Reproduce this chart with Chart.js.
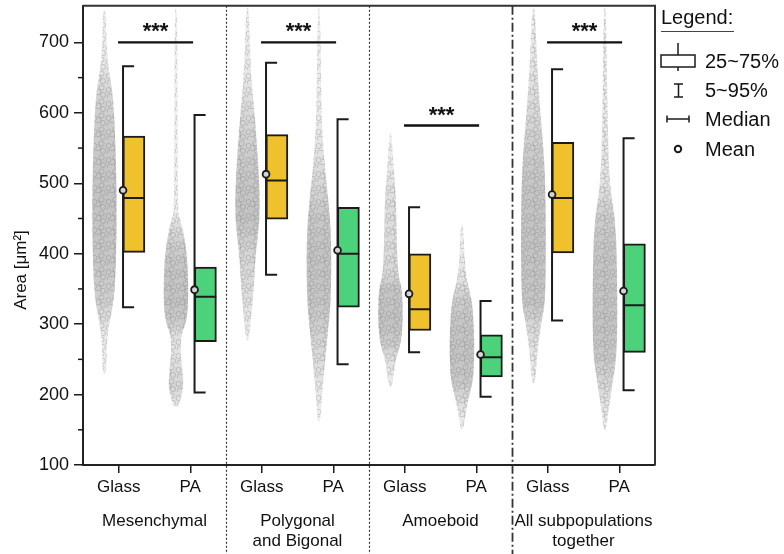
<!DOCTYPE html>
<html>
<head>
<meta charset="utf-8">
<script src="https://cdn.jsdelivr.net/npm/chart.js"></script>
<style>
  body { margin: 0; background: #fff; }
</style>
</head>
<body>
<canvas id="areaChart" width="784" height="554"></canvas>
<script>
const substrates = ['Glass', 'PA'];
const groups = [['Mesenchymal'], ['Polygonal', 'and Bigonal'], ['Amoeboid'], ['All subpopulations', 'together']];

// box statistics, one entry per column (Glass, PA, Glass, PA, ...)
const p5   = [324, 203, 370, 243, 260, 197, 305, 206];
const q1   = [402, 275, 449, 324, 291, 225, 401, 260];
const med  = [479, 339, 504, 400, 321, 253, 479, 327];
const mean = [490, 349, 513, 405, 343, 257, 484, 347];
const q3   = [567, 381, 569, 466, 400, 285, 558, 414];
const p95  = [666, 597, 671, 591, 466, 333, 662, 564];

// Glass vs PA comparison in every group
const sigLevel = [700, 700, 582, 700];
const sigText = ['***', '***', '***', '***'];

// outline of the single-cell scatter per column: [area, relative spread]
const spreads = [
  [[746, 0.12], [700, 0.16], [665, 0.3], [641, 0.55], [618, 0.7], [571, 0.85], [476, 1.0], [381, 0.92], [334, 0.75], [306, 0.45], [287, 0.25], [260, 0.18], [230, 0.15]],
  [[750, 0.1], [600, 0.12], [460, 0.15], [452, 0.3], [430, 0.6], [410, 0.8], [380, 0.95], [330, 1.0], [300, 0.8], [287, 0.45], [260, 0.35], [230, 0.55], [210, 0.6], [195, 0.4], [182, 0.15]],
  [[750, 0.12], [665, 0.25], [620, 0.45], [571, 0.7], [500, 0.95], [450, 1.0], [400, 0.65], [350, 0.5], [310, 0.3], [277, 0.12]],
  [[750, 0.1], [600, 0.2], [547, 0.35], [500, 0.6], [452, 0.9], [400, 1.0], [330, 0.95], [287, 0.7], [240, 0.45], [200, 0.25], [160, 0.1]],
  [[571, 0.1], [520, 0.25], [480, 0.45], [420, 0.5], [370, 0.6], [350, 0.95], [300, 1.0], [270, 0.8], [250, 0.4], [211, 0.15]],
  [[443, 0.1], [391, 0.2], [360, 0.4], [335, 0.8], [300, 0.95], [260, 1.0], [220, 0.9], [192, 0.5], [170, 0.25], [150, 0.1]],
  [[750, 0.12], [665, 0.3], [600, 0.55], [550, 0.8], [500, 0.95], [420, 1.0], [330, 0.95], [301, 0.6], [260, 0.3], [216, 0.15]],
  [[750, 0.1], [600, 0.2], [500, 0.35], [452, 0.8], [400, 0.95], [300, 1.0], [250, 0.9], [216, 0.6], [180, 0.3], [150, 0.1]]
];

const FONT = "'Liberation Sans', Arial, sans-serif";
const boxColors = ['#EFC12C', '#4CD27B'];
const INK = '#1b1b1b';

// column layout inside one category unit
const BOX_LEFT = 0.06, BOX_MID = 0.212, BOX_RIGHT = 0.364, CAP = 0.155;
const CLOUD_X = -0.2, CLOUD_HALF = 12.5;

const columns = p5.map((_, i) => i);

const whiskerData = [];
columns.forEach(i => {
  whiskerData.push({x: i + BOX_LEFT + CAP, y: p95[i]}, {x: i + BOX_LEFT, y: p95[i]},
                   {x: i + BOX_LEFT, y: p5[i]}, {x: i + BOX_LEFT + CAP, y: p5[i]}, {x: i, y: null});
});
const medianData = [];
columns.forEach(i => {
  medianData.push({x: i + BOX_LEFT, y: med[i]}, {x: i + BOX_RIGHT, y: med[i]}, {x: i, y: null});
});
const sigData = [];
sigLevel.forEach((v, g) => {
  sigData.push({x: g * 2 - 0.01, y: v}, {x: g * 2 + 1.04, y: v}, {x: g * 2, y: null});
});

// ring texture for the scatter clouds
const tile = document.createElement('canvas');
tile.width = tile.height = 14;
const tctx = tile.getContext('2d');
tctx.strokeStyle = 'rgba(115,115,115,0.38)';
tctx.lineWidth = 0.8;
[[3.5, 3.5], [10.5, 6], [5, 11], [12, 12.5], [0.5, 8]].forEach(([cx, cy]) => {
  tctx.beginPath();
  tctx.arc(cx, cy, 2.6, 0, Math.PI * 2);
  tctx.stroke();
});

function smoothClosed(ctx, pts) {
  const n = pts.length;
  const mid = (a, b) => [(a[0] + b[0]) / 2, (a[1] + b[1]) / 2];
  const m0 = mid(pts[n - 1], pts[0]);
  ctx.beginPath();
  ctx.moveTo(m0[0], m0[1]);
  for (let k = 0; k < n; k++) {
    const p = pts[k], q = pts[(k + 1) % n];
    const m = mid(p, q);
    ctx.quadraticCurveTo(p[0], p[1], m[0], m[1]);
  }
  ctx.closePath();
}

function drawCloud(ctx, xs, ys, i, prof) {
  const cx = xs.getPixelForValue(i + CLOUD_X);
  const right = prof.map(([v, s]) => [cx + s * CLOUD_HALF, ys.getPixelForValue(v)]);
  const left = prof.map(([v, s]) => [cx - s * CLOUD_HALF, ys.getPixelForValue(v)]).reverse();
  const pts = right.concat(left);
  const yTop = right[0][1], yBot = right[right.length - 1][1];
  const grad = ctx.createLinearGradient(0, yTop, 0, yBot);
  prof.forEach(([v, s]) => {
    const t = (ys.getPixelForValue(v) - yTop) / (yBot - yTop);
    grad.addColorStop(Math.min(1, Math.max(0, t)), `rgba(155,155,155,${0.1 + 0.5 * s})`);
  });
  smoothClosed(ctx, pts);
  ctx.fillStyle = grad;
  ctx.fill();
  ctx.save();
  ctx.clip();
  ctx.fillStyle = ctx.createPattern(tile, 'repeat');
  ctx.fillRect(cx - CLOUD_HALF - 2, yTop - 2, CLOUD_HALF * 2 + 4, yBot - yTop + 4);
  ctx.restore();
}

const plotDecor = {
  id: 'plotDecor',
  beforeDatasetsDraw(chart) {
    const {ctx, scales: {x, y}} = chart;
    ctx.save();
    spreads.forEach((prof, i) => drawCloud(ctx, x, y, i, prof));
    ctx.restore();
  },
  afterDraw(chart) {
    const {ctx, chartArea: a, scales: {x, y}} = chart;
    ctx.save();

    // top and right frame
    ctx.strokeStyle = '#333';
    ctx.lineWidth = 2;
    ctx.beginPath();
    ctx.moveTo(a.left, a.top);
    ctx.lineTo(a.right, a.top);
    ctx.lineTo(a.right, a.bottom);
    ctx.stroke();

    // minor ticks on the area axis
    ctx.strokeStyle = INK;
    ctx.lineWidth = 1.5;
    for (let v = 150; v < 700; v += 100) {
      const py = y.getPixelForValue(v);
      ctx.beginPath();
      ctx.moveTo(a.left - 5, py);
      ctx.lineTo(a.left, py);
      ctx.stroke();
    }

    // group dividers
    groups.forEach((_, g) => {
      if (g === 0) return;
      const px = Math.round(x.getPixelForValue(g * 2 - 0.5)) + 0.5;
      const last = g === groups.length - 1;
      ctx.strokeStyle = '#333';
      ctx.lineWidth = last ? 1.8 : 1.2;
      ctx.setLineDash(last ? [9, 3, 2, 3] : [2, 2]);
      ctx.beginPath();
      ctx.moveTo(px, a.top);
      ctx.lineTo(px, chart.height);
      ctx.stroke();
    });
    ctx.setLineDash([]);

    // group names under the axis
    ctx.fillStyle = '#111';
    ctx.font = `17px ${FONT}`;
    ctx.textAlign = 'center';
    ctx.textBaseline = 'middle';
    groups.forEach((lines, g) => {
      const px = x.getPixelForValue(g * 2 + 0.5);
      lines.forEach((t, k) => ctx.fillText(t, px, 521 + k * 20));
    });

    // significance stars
    ctx.font = `bold 22px ${FONT}`;
    ctx.textBaseline = 'alphabetic';
    sigLevel.forEach((v, g) => {
      const px = x.getPixelForValue(g * 2 + 0.515);
      ctx.fillText(sigText[g], px, y.getPixelForValue(v) - 4);
    });

    // axis title
    ctx.save();
    ctx.translate(21, 270);
    ctx.rotate(-Math.PI / 2);
    ctx.font = `17px ${FONT}`;
    ctx.textBaseline = 'middle';
    ctx.fillText('Area [\u03bcm\u00b2]', 0, 0);
    ctx.restore();

    // legend
    ctx.fillStyle = '#111';
    ctx.textAlign = 'left';
    ctx.font = `20px ${FONT}`;
    ctx.textBaseline = 'alphabetic';
    ctx.fillText('Legend:', 661, 24);
    ctx.strokeStyle = '#444';
    ctx.lineWidth = 1;
    ctx.beginPath();
    ctx.moveTo(661, 31.5);
    ctx.lineTo(734, 31.5);
    ctx.stroke();

    ctx.strokeStyle = INK;
    ctx.lineWidth = 1.5;
    ctx.strokeRect(661, 55, 34, 12);
    ctx.beginPath();
    ctx.moveTo(678, 43); ctx.lineTo(678, 55);
    ctx.moveTo(678, 67); ctx.lineTo(678, 71);
    ctx.moveTo(674, 84); ctx.lineTo(683, 84);
    ctx.moveTo(678.5, 84); ctx.lineTo(678.5, 97);
    ctx.moveTo(674, 97); ctx.lineTo(683, 97);
    ctx.moveTo(667, 119); ctx.lineTo(689, 119);
    ctx.moveTo(667, 115.5); ctx.lineTo(667, 122.5);
    ctx.moveTo(689, 115.5); ctx.lineTo(689, 122.5);
    ctx.stroke();
    ctx.beginPath();
    ctx.arc(678, 149, 3.2, 0, Math.PI * 2);
    ctx.fillStyle = '#fff';
    ctx.fill();
    ctx.lineWidth = 2;
    ctx.stroke();

    ctx.fillStyle = '#111';
    ctx.textBaseline = 'middle';
    ctx.fillText('25~75%', 705, 62);
    ctx.fillText('5~95%', 705, 91);
    ctx.fillText('Median', 705, 120);
    ctx.fillText('Mean', 705, 150);

    ctx.restore();
  }
};

new Chart(document.getElementById('areaChart'), {
  type: 'bar',
  data: {
    datasets: [{
      type: 'line',
      data: whiskerData,
      borderColor: INK,
      borderWidth: 2,
      borderJoinStyle: 'miter',
      pointRadius: 0,
      order: 5
    }, {
      type: 'bar',
      data: columns.map(i => ({x: i + BOX_MID, y: [q1[i], q3[i]]})),
      backgroundColor: columns.map(i => boxColors[i % 2]),
      borderColor: INK,
      borderWidth: 2,
      borderSkipped: false,
      barThickness: 22,
      order: 4
    }, {
      type: 'line',
      data: medianData,
      borderColor: INK,
      borderWidth: 2,
      pointRadius: 0,
      order: 3
    }, {
      type: 'line',
      data: sigData,
      borderColor: '#111',
      borderWidth: 2.4,
      pointRadius: 0,
      order: 2
    }, {
      type: 'line',
      showLine: false,
      data: columns.map(i => ({x: i + BOX_LEFT, y: mean[i]})),
      pointRadius: 3.4,
      pointBackgroundColor: '#d4d4d4',
      pointBorderColor: INK,
      pointBorderWidth: 1.8,
      order: 1
    }]
  },
  options: {
    responsive: false,
    animation: false,
    devicePixelRatio: 1,
    layout: {
      padding: {left: 0, right: 129, top: 5, bottom: 0}
    },
    plugins: {
      legend: {display: false},
      tooltip: {enabled: false}
    },
    scales: {
      x: {
        type: 'linear',
        min: -0.5,
        max: 7.5,
        offset: false,
        afterBuildTicks: s => { s.ticks = columns.map(v => ({value: v})); },
        afterFit: s => { s.height = 89; s.paddingLeft = 0; s.paddingRight = 0; },
        ticks: {
          autoSkip: false,
          maxRotation: 0,
          padding: 4,
          color: '#111',
          font: {family: FONT, size: 17},
          callback: v => substrates[v % 2]
        },
        grid: {
          offset: false,
          drawOnChartArea: false,
          color: INK,
          lineWidth: 1.5,
          tickLength: 8
        },
        border: {color: '#222', width: 2}
      },
      y: {
        min: 100,
        max: 752,
        afterBuildTicks: s => { s.ticks = s.ticks.filter(t => t.value % 100 === 0); },
        afterFit: s => { s.width = 83; s.paddingTop = 0; s.paddingBottom = 0; },
        ticks: {
          stepSize: 100,
          padding: 5,
          color: '#111',
          font: {family: FONT, size: 18}
        },
        grid: {
          drawOnChartArea: false,
          color: INK,
          lineWidth: 1.5,
          tickLength: 9
        },
        border: {color: '#222', width: 2}
      }
    }
  },
  plugins: [plotDecor]
});
</script>
</body>
</html>
